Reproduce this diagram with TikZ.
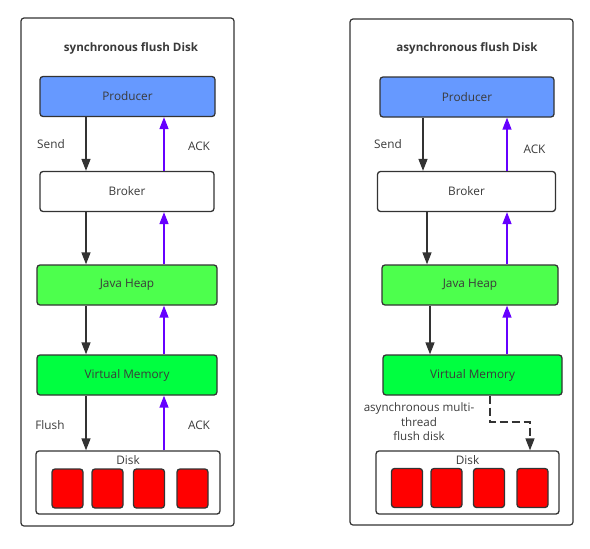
\documentclass[tikz,border=0pt]{standalone}
\usepackage{fontspec}
\setmainfont{Open Sans}
\usetikzlibrary{arrows.meta}
\definecolor{linegray}{HTML}{333333}
\definecolor{txtgray}{HTML}{3A3A3A}
\definecolor{prodblue}{HTML}{6699FF}
\definecolor{heapgreen}{HTML}{4DFF4D}
\definecolor{vmgreen}{HTML}{00FF40}
\definecolor{ackpurple}{HTML}{6600FF}
\begin{document}
\begin{tikzpicture}[x=1pt,y=-1pt,
  every node/.style={text=txtgray,font=\fontsize{11.8}{14}\selectfont},
  panel/.style={draw=linegray,line width=1.2pt,rounded corners=3pt},
  box/.style={draw=linegray,line width=1.3pt,rounded corners=3pt,minimum height=40pt,inner sep=0pt},
  cell/.style={draw=linegray,line width=1.3pt,rounded corners=3pt,fill=red,minimum width=31pt,minimum height=39pt,inner sep=0pt},
  title/.style={font=\bfseries\fontsize{11.6}{14}\selectfont},
  sendarr/.style={draw=linegray,line width=1.4pt,-{Triangle[length=12pt,width=9pt]}},
  ackarr/.style={draw=ackpurple,line width=1.4pt,-{Triangle[length=12pt,width=9pt]}},
  dasharr/.style={draw=linegray,line width=1.4pt,dash pattern=on 8pt off 4pt,-{Triangle[length=12pt,width=9pt]}}]
\useasboundingbox (0,0) rectangle (590,549);
% left panel: synchronous
\draw[panel] (21,18) rectangle (234,526);
\node[title] (titleL) at (131,48) {synchronous flush Disk};
\node[box,fill=prodblue,minimum width=175pt] (prodL) at (127.5,96.5) {Producer};
\node[box,fill=white,minimum width=174pt] (brokL) at (127,191.5) {Broker};
\node[box,fill=heapgreen,minimum width=180pt] (heapL) at (127,285) {Java Heap};
\node[box,fill=vmgreen,minimum width=180pt] (vmL) at (127,375) {Virtual Memory};
\node[box,fill=white,minimum width=184pt,minimum height=63pt] (diskL) at (128,482.5) {};
\node (disklblL) at ([yshift=-10pt]diskL.north) {Disk};
\foreach \x [count=\i] in {67.5,107.5,149,192.5}
  \node[cell] (cellL\i) at (\x,488.5) {};
\coordinate (downL) at (86,0);
\coordinate (upL) at (164,0);
\draw[sendarr] (prodL.south -| downL) -- (brokL.north -| downL);
\draw[sendarr] (brokL.south -| downL) -- (heapL.north -| downL);
\draw[sendarr] (heapL.south -| downL) -- (vmL.north -| downL);
\draw[sendarr] (vmL.south -| downL) -- (diskL.north -| downL);
\draw[ackarr] (brokL.north -| upL) -- (prodL.south -| upL);
\draw[ackarr] (heapL.north -| upL) -- (brokL.south -| upL);
\draw[ackarr] (vmL.north -| upL) -- (heapL.south -| upL);
\draw[ackarr] (diskL.north -| upL) -- (vmL.south -| upL);
\node (sendL) at (51,144) {Send};
\node (ackL) at (199,146) {ACK};
\node (flushL) at (50,425) {Flush};
\node (ackdiskL) at (199,425) {ACK};
% right panel: asynchronous
\draw[panel] (350,19) rectangle (573,525);
\node[title] (titleR) at (467,48) {asynchronous flush Disk};
\node[box,fill=prodblue,minimum width=174pt] (prodR) at (467,97) {Producer};
\node[box,fill=white,minimum width=178pt] (brokR) at (466.5,191.5) {Broker};
\node[box,fill=heapgreen,minimum width=176pt] (heapR) at (470,285) {Java Heap};
\node[box,fill=vmgreen,minimum width=179pt] (vmR) at (472.5,375) {Virtual Memory};
\node[box,fill=white,minimum width=183pt,minimum height=63pt] (diskR) at (467.5,482.5) {};
\node (disklblR) at ([yshift=-10pt]diskR.north) {Disk};
\foreach \x [count=\i] in {407,446.5,489,532.5}
  \node[cell] (cellR\i) at (\x,488) {};
\coordinate (downRa) at (423,0);
\coordinate (downRb) at (427,0);
\coordinate (downRc) at (430,0);
\coordinate (upR) at (507,0);
\draw[sendarr] (prodR.south -| downRa) -- (brokR.north -| downRa);
\draw[sendarr] (brokR.south -| downRb) -- (heapR.north -| downRb);
\draw[sendarr] (heapR.south -| downRc) -- (vmR.north -| downRc);
\draw[ackarr] (brokR.north -| upR) -- (prodR.south -| upR);
\draw[ackarr] (heapR.north -| upR) -- (brokR.south -| upR);
\draw[ackarr] (vmR.north -| upR) -- (heapR.south -| upR);
\coordinate (asyncR) at (490,422);
\coordinate (asyncendR) at (530,0);
\draw[dasharr] (vmR.south -| asyncR) -- (asyncR) -| (diskR.north -| asyncendR);
\node (sendR) at (388,144) {Send};
\node (ackR) at (534.5,149) {ACK};
\node[align=center,font=\fontsize{11.6}{14.5}\selectfont] (asynclbl) at (419,422)
  {asynchronous multi-\\thread\\flush disk};
\end{tikzpicture}
\end{document}
